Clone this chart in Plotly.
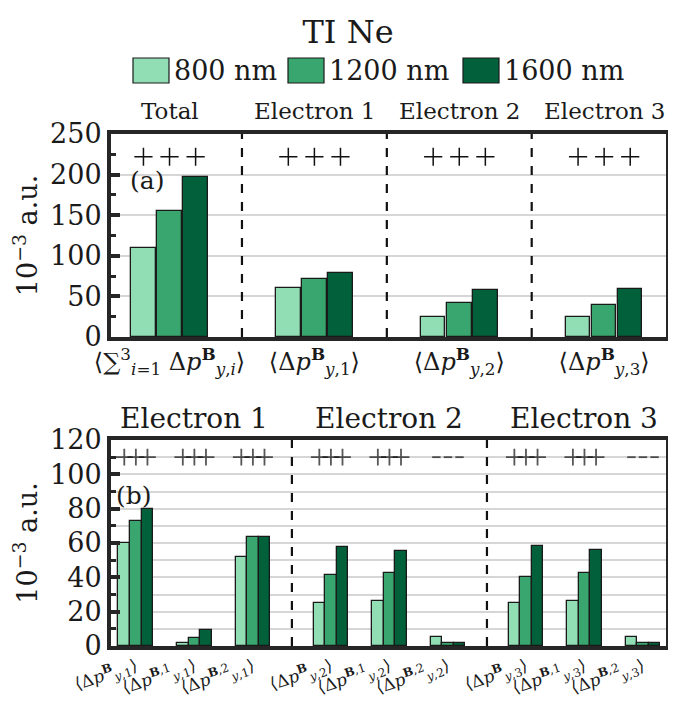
import plotly.graph_objects as go

W, H = 676, 704
FONT = "DejaVu Serif"

# ---------------- data ----------------
wavelengths = ["800 nm", "1200 nm", "1600 nm"]
colors = ["#92deb4", "#38a66e", "#02613a"]

cats_a = ["Total", "Electron 1", "Electron 2", "Electron 3"]
labels_a = [
    "⟨∑<sup>3</sup><sub><i>i</i>=1</sub> Δ<i>p</i><sup><b>B</b></sup><sub><i>y</i>,<i>i</i></sub>⟩",
    "⟨Δ<i>p</i><sup><b>B</b></sup><sub><i>y</i>,1</sub>⟩",
    "⟨Δ<i>p</i><sup><b>B</b></sup><sub><i>y</i>,2</sub>⟩",
    "⟨Δ<i>p</i><sup><b>B</b></sup><sub><i>y</i>,3</sub>⟩",
]
vals_a_800 = [110, 60, 25, 25]
vals_a_1200 = [155, 72, 42, 40]
vals_a_1600 = [197, 79, 58, 59]
signs_a = ["+++", "+++", "+++", "+++"]

groups_b = ["Electron 1", "Electron 2", "Electron 3"]
labels_b = []
for e in ["1", "2", "3"]:
    for sup in ["<b>B</b>", "<b>B</b>,1", "<b>B</b>,2"]:
        labels_b.append("⟨Δ<i>p</i><sup>" + sup + "</sup><sub><i>y</i>," + e + "</sub>⟩")
vals_b_800 = [60, 2, 52, 25, 26, 5, 25, 26, 5]
vals_b_1200 = [73, 4.5, 63.5, 41.5, 42.5, 2, 40, 42.5, 2]
vals_b_1600 = [80, 9.5, 63.5, 57.5, 55.5, 2, 58.5, 56, 2]
signs_b = ["+++", "+++", "+++", "+++", "+++", "---", "+++", "+++", "---"]

vals_a = [vals_a_800, vals_a_1200, vals_a_1600]
vals_b = [vals_b_800, vals_b_1200, vals_b_1600]

# ---------------- layout helpers ----------------
def px_x(p):
    return p / W

def px_y(p):
    return 1 - p / H

pos_a = list(range(len(cats_a)))
gap_b = 4.0 / 3.0
pos_b = [g * (2 + gap_b) + j for g in range(3) for j in range(3)]

step_a, width_a = 0.18, 0.169
step_b, width_b = 0.198, 0.198
INK = "#1a1a1a"

fig = go.Figure()

for k in range(3):
    fig.add_trace(go.Bar(
        x=[p + (k - 1) * step_a for p in pos_a], y=vals_a[k], width=width_a,
        name=wavelengths[k], marker=dict(color=colors[k], line=dict(color=INK, width=1.3)),
        xaxis="x", yaxis="y", showlegend=False))
    fig.add_trace(go.Bar(
        x=[p + (k - 1) * step_b for p in pos_b], y=vals_b[k], width=width_b,
        name=wavelengths[k], marker=dict(color=colors[k], line=dict(color=INK, width=1.3)),
        xaxis="x2", yaxis="y2", showlegend=False))

for k in range(3):
    fig.add_trace(go.Scatter(
        x=[p + (k - 1) * step_a for p in pos_a], y=[222] * len(pos_a), mode="markers",
        marker=dict(symbol=["cross-thin" if s[k] == "+" else "line-ew" for s in signs_a],
                    size=13, line=dict(color="#111", width=1.5)),
        xaxis="x", yaxis="y", showlegend=False, hoverinfo="skip"))
    fig.add_trace(go.Scatter(
        x=[p + (k - 1) * step_b for p in pos_b], y=[110] * len(pos_b), mode="markers",
        marker=dict(symbol=["cross-thin" if s[k] == "+" else "line-ew" for s in signs_b],
                    size=[12 if s[k] == "+" else 6 for s in signs_b],
                    line=dict(color="#111", width=1.8)),
        xaxis="x2", yaxis="y2", showlegend=False, hoverinfo="skip"))

axis_line = dict(showline=True, linecolor="#262626", linewidth=4, mirror=True)
xdom = [px_x(103), px_x(658)]

fig.update_layout(
    width=W, height=H, template="none",
    margin=dict(l=0, r=0, t=0, b=0),
    paper_bgcolor="white", plot_bgcolor="white",
    font=dict(family=FONT, color=INK),
    showlegend=False,
    title=dict(text="TI Ne", x=0.503, xanchor="center", y=px_y(24), yanchor="middle",
               font=dict(size=32, family=FONT, color=INK)),
    xaxis=dict(domain=xdom, range=[-0.404, 3.427], tickvals=pos_a, ticktext=labels_a,
               ticks="", showgrid=False, zeroline=False, automargin=False,
               tickfont=dict(size=24, family=FONT, color=INK), anchor="y", **axis_line),
    yaxis=dict(domain=[px_y(329), px_y(126)], range=[0, 250], dtick=50, ticks="inside",
               ticklen=9, tickwidth=4, tickcolor="#262626",
               showgrid=True, gridcolor="#d6d6d6", gridwidth=2, zeroline=False,
               minor=dict(dtick=25, ticks="inside", ticklen=5, tickwidth=3, tickcolor="#262626", showgrid=False),
               tickfont=dict(size=27, family=FONT, color=INK), automargin=False, anchor="x",
               title=dict(text="10<sup>−3</sup> a.u.", font=dict(size=27, family=FONT, color=INK), standoff=6),
               **axis_line),
    xaxis2=dict(domain=xdom, range=[-0.425, 9.06], tickvals=pos_b, ticktext=labels_b,
                ticks="", showgrid=False, zeroline=False, automargin=False, tickangle=-18,
                tickfont=dict(size=17, family=FONT, color=INK), anchor="y2", **axis_line),
    yaxis2=dict(domain=[px_y(638), px_y(432)], range=[0, 120], dtick=20, ticks="inside",
                ticklen=9, tickwidth=4, tickcolor="#262626",
                showgrid=True, gridcolor="#d6d6d6", gridwidth=2, zeroline=False,
                minor=dict(dtick=10, ticks="inside", ticklen=5, tickwidth=3, tickcolor="#262626",
                           showgrid=True, gridcolor="#d6d6d6", gridwidth=2),
                tickfont=dict(size=27, family=FONT, color=INK), automargin=False, anchor="x2",
                title=dict(text="10<sup>−3</sup> a.u.", font=dict(size=27, family=FONT, color=INK), standoff=6),
                **axis_line),
    bargap=0, barmode="overlay",
)

shapes = []
for xs in [0.5, 1.5, 2.5]:
    shapes.append(dict(type="line", xref="x", yref="y domain", x0=xs, x1=xs, y0=0, y1=1,
                       line=dict(color="#111", width=2.2, dash="dash")))
for g in range(2):
    xs = (pos_b[3 * g + 2] + pos_b[3 * g + 3]) / 2
    shapes.append(dict(type="line", xref="x2", yref="y2 domain", x0=xs, x1=xs, y0=0, y1=1,
                       line=dict(color="#111", width=2.2, dash="dash")))

leg_swatch_x = [125, 280, 455]
annotations = []
for k in range(3):
    x0 = leg_swatch_x[k]
    shapes.append(dict(type="rect", xref="paper", yref="paper",
                       x0=px_x(x0), x1=px_x(x0 + 36), y0=px_y(75), y1=px_y(50),
                       fillcolor=colors[k], line=dict(color=INK, width=1.2)))
    annotations.append(dict(text=wavelengths[k], xref="paper", yref="paper",
                            x=px_x(x0 + 39), y=px_y(62), xanchor="left", yanchor="middle",
                            showarrow=False, font=dict(size=27, family=FONT, color=INK)))

for i, c in enumerate(cats_a):
    annotations.append(dict(text=c, xref="x", yref="paper", x=pos_a[i], y=px_y(103),
                            xanchor="center", yanchor="middle", showarrow=False,
                            font=dict(size=23, family=FONT, color=INK)))
for g, c in enumerate(groups_b):
    annotations.append(dict(text=c, xref="x2", yref="paper", x=pos_b[3 * g + 1], y=px_y(410),
                            xanchor="center", yanchor="middle", showarrow=False,
                            font=dict(size=28, family=FONT, color=INK)))

annotations.append(dict(text="(a)", xref="x domain", yref="y domain", x=0.03, y=0.77,
                        xanchor="left", yanchor="middle", showarrow=False,
                        font=dict(size=25, family=FONT, color=INK)))
annotations.append(dict(text="(b)", xref="x2 domain", yref="y2 domain", x=0.005, y=0.73,
                        xanchor="left", yanchor="middle", showarrow=False,
                        font=dict(size=25, family=FONT, color=INK)))

fig.update_layout(shapes=shapes, annotations=annotations)
fig.write_html("out.html")
